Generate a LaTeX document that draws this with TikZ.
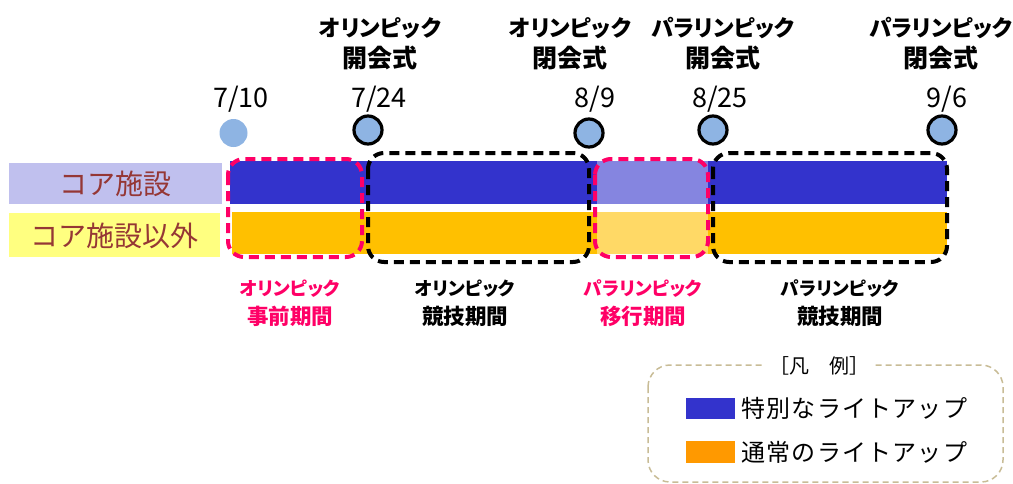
\documentclass[tikz,border=0pt]{standalone}
\usepackage{fontspec}
\setmainfont{Noto Sans CJK JP}
\newfontfamily\jp{Noto Sans CJK JP}
\newfontfamily\jpp{Noto Sans CJK JP}[RawFeature=+palt]
\newfontfamily\jpl{Noto Sans CJK JP}[LetterSpace=5]
\usetikzlibrary{positioning}
\definecolor{cblue}{HTML}{3333CC}
\definecolor{corange}{HTML}{FFC000}
\definecolor{lorange}{HTML}{FF9900}
\definecolor{lblue}{HTML}{8585E0}
\definecolor{lyel}{HTML}{FFD966}
\definecolor{dot}{HTML}{8EB4E3}
\definecolor{lav}{HTML}{C0C0EE}
\definecolor{yel}{HTML}{FFFF80}
\definecolor{pinkc}{HTML}{FF0066}
\definecolor{brownc}{HTML}{953735}
\definecolor{tan}{HTML}{C8BC96}
\newcommand\evkj[1]{{\fontsize{25}{31}\selectfont #1}}
\newcommand\pkj[1]{{\fontsize{21.5}{29}\selectfont #1}}
\tikzset{
  rowlabel/.style={font=\jp\fontsize{28}{30}\selectfont, text=brownc, anchor=center},
  event/.style={font=\jpp\bfseries\fontsize{22.5}{31}\selectfont, align=center, anchor=center},
  datelbl/.style={font=\jp\fontsize{27}{29}\selectfont, anchor=center},
  dotc/.style={circle, fill=dot, minimum size=28pt, inner sep=0pt},
  dotb/.style={dotc, draw=black, line width=3.2pt},
  period/.style={draw, line width=4pt, dash pattern=on 10pt off 6pt, rounded corners=16pt},
  plabel/.style={font=\jpp\bfseries\fontsize{18.5}{29}\selectfont, align=center, anchor=center},
  legtext/.style={font=\jpl\fontsize{24}{26}\selectfont, anchor=west},
}
\begin{document}
\begin{tikzpicture}[x=1pt,y=-1pt]
\useasboundingbox (0,0) rectangle (1013,483);
% row labels
\fill[lav] (9,163) rectangle (222,204);
\fill[yel] (9,213) rectangle (220,257);
\node[rowlabel] (core) at (115.5,184) {コア施設};
\node[rowlabel] (noncore) at (114.5,236) {コア施設以外};
% bars
\fill[cblue] (230,161) rectangle (947,204);
\fill[corange] (232,212) rectangle (947,254);
\fill[lblue] (597,161) rectangle (708,204);
\fill[lyel] (597,212) rectangle (708,254);
% period boxes
\draw[period, pinkc] (228,159) rectangle (362,257);
\draw[period, black] (368,153) rectangle (589,262);
\draw[period, pinkc] (595,159) rectangle (708,257);
\draw[period, black] (713,153) rectangle (947,262);
% dots
\node[dotc] (d1) at (233.5,133) {};
\node[dotb] (d2) at (368,130) {};
\node[dotb] (d3) at (589,133) {};
\node[dotb] (d4) at (713,130) {};
\node[dotb] (d5) at (942,130) {};
% dates
\node[datelbl] (t1) at (241,99) {7/10};
\node[datelbl] (t2) at (379,99) {7/24};
\node[datelbl] (t3) at (595,99) {8/9};
\node[datelbl] (t4) at (720,99) {8/25};
\node[datelbl] (t5) at (947,99) {9/6};
% events
\node[event] (e2) at (380,44) {オリンピック\\\evkj{開会式}};
\node[event] (e3) at (570,44) {オリンピック\\\evkj{閉会式}};
\node[event] (e4) at (723,44) {パラリンピック\\\evkj{開会式}};
\node[event] (e5) at (941,44) {パラリンピック\\\evkj{閉会式}};
% period labels
\node[plabel, text=pinkc] (p1) at (290,303) {オリンピック\\\pkj{事前期間}};
\node[plabel] (p2) at (465,303) {オリンピック\\\pkj{競技期間}};
\node[plabel, text=pinkc] (p3) at (643,303) {パラリンピック\\\pkj{移行期間}};
\node[plabel] (p4) at (840,303) {パラリンピック\\\pkj{競技期間}};
% legend
\draw[tan, line width=1.5pt, dash pattern=on 6pt off 4pt, rounded corners=22pt] (648,365) rectangle (1003,482);
\node[fill=white, font=\jp\fontsize{20}{22}\selectfont, inner xsep=6pt] (lt) at (819,366) {［凡　例］};
\fill[cblue] (686,398) rectangle (735,419);
\fill[lorange] (686,441) rectangle (735,463);
\node[legtext] (l1) at (738,408) {特別なライトアップ};
\node[legtext] (l2) at (738,452) {通常のライトアップ};
\end{tikzpicture}
\end{document}
